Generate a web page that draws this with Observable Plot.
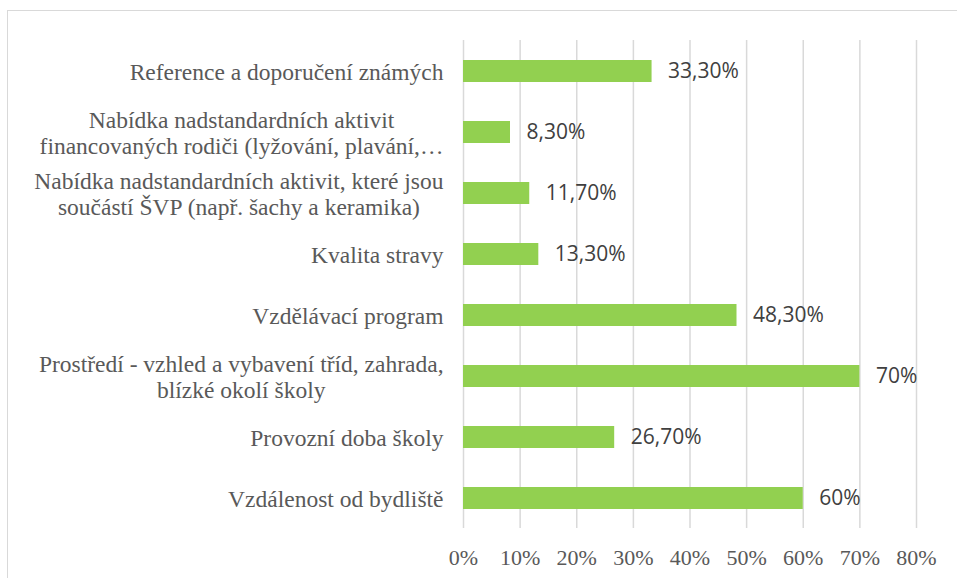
<!DOCTYPE html>
<html>
<head>
<meta charset="utf-8">
<script src="https://cdn.jsdelivr.net/npm/d3@7"></script>
<script src="https://cdn.jsdelivr.net/npm/@observablehq/plot@0.6"></script>
<style>
  html, body { margin: 0; padding: 0; background: #fff; }
  body { width: 957px; height: 578px; position: relative; overflow: hidden; }
  #frame { position: absolute; left: 7px; top: 10px; width: 1200px; height: 1200px; border: 1.5px solid #d9d9d9; box-sizing: border-box; }
  #chart { position: absolute; left: 0; top: 0; }
</style>
</head>
<body>
<div id="frame"></div>
<div id="chart"></div>
<script>
const categories = [
  "Reference a doporučení známých",
  "Nabídka nadstandardních aktivit\nfinancovaných rodiči (lyžování, plavání,…",
  "Nabídka nadstandardních aktivit, které jsou\nsoučástí ŠVP (např. šachy a keramika)",
  "Kvalita stravy",
  "Vzdělávací program",
  "Prostředí - vzhled a vybavení tříd, zahrada,\nblízké okolí školy",
  "Provozní doba školy",
  "Vzdálenost od bydliště"
];
const values = [33.3, 8.3, 11.7, 13.3, 48.3, 70, 26.7, 60];
const valueLabels = ["33,30%", "8,30%", "11,70%", "13,30%", "48,30%", "70%", "26,70%", "60%"];
const xTicks = [0, 10, 20, 30, 40, 50, 60, 70, 80];

const data = categories.map((c, i) => ({cat: c, value: values[i], label: valueLabels[i]}));

const serifFont = "'Liberation Serif', 'Times New Roman', serif";
const catFontSize = 23.5;
const ctx = document.createElement("canvas").getContext("2d");
ctx.font = `${catFontSize}px 'Liberation Serif'`;

const labelMarks = data.map(d => {
  const lines = d.cat.split("\n");
  const w = Math.max(...lines.map(l => ctx.measureText(l).width));
  return Plot.text([d], {
    y: "cat",
    text: "cat",
    frameAnchor: "left",
    textAnchor: "middle",
    dx: -20 - w / 2,
    lineHeight: 1.1,
    fontFamily: serifFont,
    fontSize: catFontSize,
    fill: "#595959"
  });
});

const chart = Plot.plot({
  width: 957,
  height: 578,
  marginLeft: 463,
  marginRight: 41,
  marginTop: 40,
  marginBottom: 50,
  style: {background: "transparent", overflow: "visible"},
  x: {domain: [0, 80], ticks: xTicks, label: null},
  y: {domain: categories, paddingInner: 0.64, paddingOuter: 0.32, axis: null},
  marks: [
    Plot.ruleX(xTicks, {stroke: "#d9d9d9", strokeWidth: 1.5}),
    Plot.barX(data, {x: "value", y: "cat", fill: "#92D050"}),
    Plot.text(data, {
      x: "value", y: "cat", text: "label",
      textAnchor: "start", dx: 16,
      fontFamily: "'Open Sans', sans-serif", fontSize: 21, fill: "#404040"
    }),
    Plot.axisX(xTicks, {
      tickSize: 0, tickPadding: 21,
      tickFormat: d => d + "%",
      fontFamily: serifFont, fontSize: 22, fill: "#595959", label: null
    }),
    ...labelMarks
  ]
});
document.getElementById("chart").appendChild(chart);
</script>
</body>
</html>
